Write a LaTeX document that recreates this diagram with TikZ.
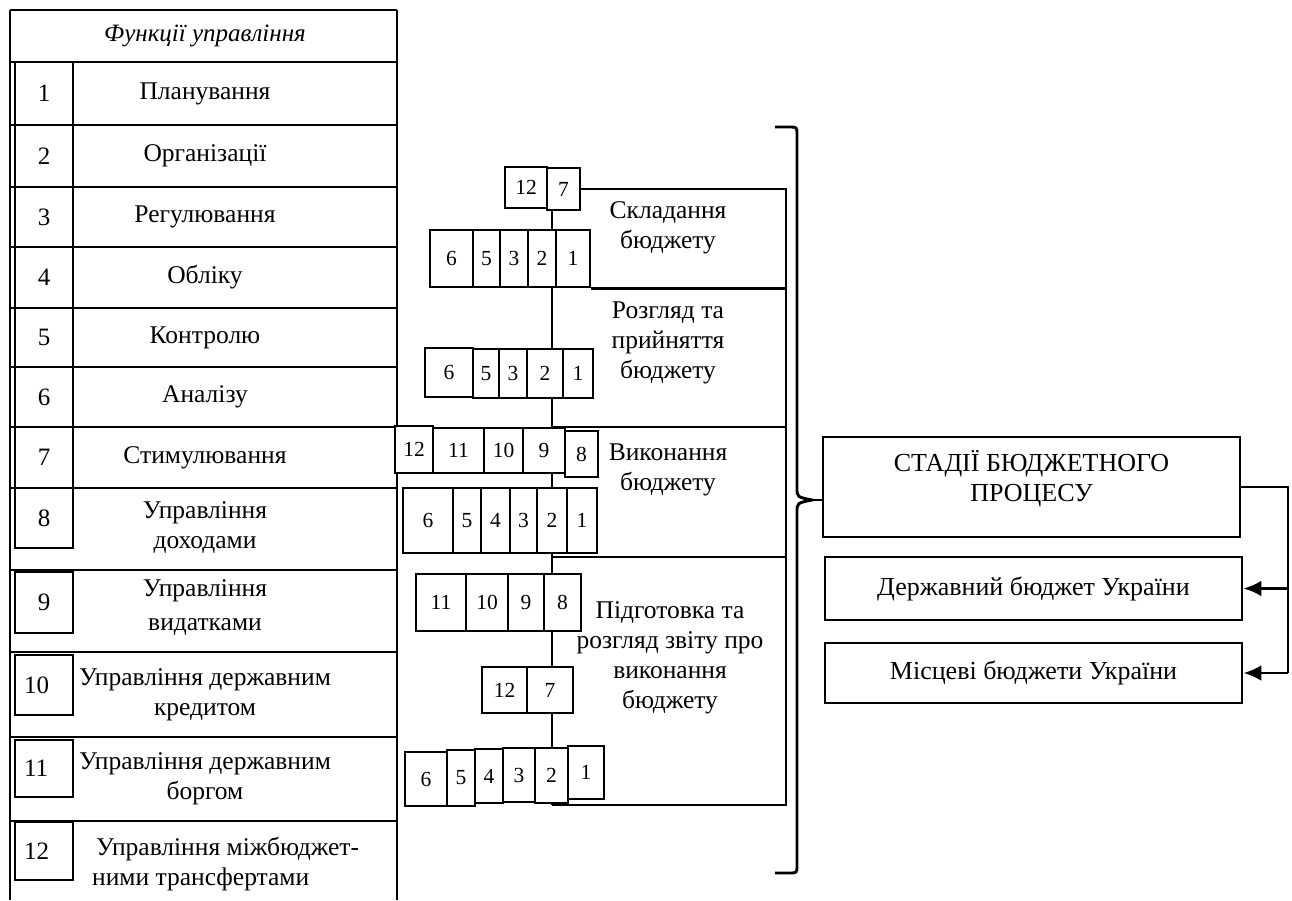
\documentclass[tikz,border=0pt]{standalone}
\usepackage{fontspec}
\setmainfont{Liberation Serif}
\usetikzlibrary{arrows.meta}
\begin{document}
\begin{tikzpicture}[x=1pt,y=-1pt,
  ln/.style={line width=2.9pt},
  spine/.style={line width=2.4pt},
  numbox/.style={draw, line width=2.9pt, fill=white, inner sep=0pt, minimum width=58pt, font=\fontsize{25}{30}\selectfont},
  numL/.style={text width=40pt, align=left},
  lbl/.style={inner sep=0pt, align=center, font=\fontsize{25.5}{30}\selectfont},
  sb/.style={draw, line width=2.7pt, fill=white, inner sep=0pt, font=\fontsize{21.5}{21.5}\selectfont},
  bigbox/.style={draw, line width=2.9pt, inner sep=0pt, align=center, minimum width=417pt, font=\fontsize{26}{30}\selectfont},
  arr/.style={line width=2.9pt, -{Latex[length=18pt,width=16pt]}}
]
\useasboundingbox (0,0) rectangle (1292,900);

% ---------- left table ----------
\draw[ln] (10,10) -- (10,900);
\draw[ln] (397,10) -- (397,900);
\foreach \y in {10,62,125,187,247,308,367,427,488,570,652,737,821}
  \draw[ln] (10,\y) -- (397,\y);

\node[lbl, font=\fontsize{25}{30}\selectfont\itshape] (hdr) at (205,36) {Функції управління};

\node[numbox, minimum height=63] (f1) at (44,93.5) {1};
\node[numbox, minimum height=62] (f2) at (44,156) {2};
\node[numbox, minimum height=60] (f3) at (44,217) {3};
\node[numbox, minimum height=61] (f4) at (44,277.5) {4};
\node[numbox, minimum height=59] (f5) at (44,337.5) {5};
\node[numbox, minimum height=60] (f6) at (44,397) {6};
\node[numbox, minimum height=61] (f7) at (44,457.5) {7};
\node[numbox, minimum height=60] (f8) at (44,518) {8};
\node[numbox, minimum height=61] (f9) at (44,602.5) {9};
\node[numbox, numL, minimum height=60] (f10) at (44,685) {10};
\node[numbox, numL, minimum height=57] (f11) at (44,768.5) {11};
\node[numbox, numL, minimum height=58] (f12) at (44,851) {12};

\node[lbl] (t1) at (205,93.5) {Планування};
\node[lbl] (t2) at (205,156) {Організації};
\node[lbl] (t3) at (205,217) {Регулювання};
\node[lbl] (t4) at (205,277.5) {Обліку};
\node[lbl] (t5) at (205,337.5) {Контролю};
\node[lbl] (t6) at (205,397) {Аналізу};
\node[lbl] (t7) at (205,457.5) {Стимулювання};
\node[lbl] (t8) at (205,528) {Управління\\доходами};
\node[lbl] (t9) at (205,608) {Управління\\[4pt]видатками};
\node[lbl] (t10) at (205,695) {Управління державним\\кредитом};
\node[lbl] (t11) at (205,779) {Управління державним\\боргом};
\node[lbl, align=left, anchor=west] (t12) at (92,864) {\hspace*{4pt}Управління міжбюджет-\\ними трансфертами};

% ---------- stage frames and spine ----------
\coordinate (sp) at (552,0);
\coordinate (c1) at (786,427);
\coordinate (c2) at (786,557);
\coordinate (c3) at (786,805);

\node[sb, minimum width=33, minimum height=42] (g1b7) at (563.5,189) {7};
\node[sb, minimum width=34, minimum height=57] (g1b1) at (573,258.5) {1};

\draw[ln] (g1b7.east) -| (c2) -- (sp |- c2);
\draw[ln] (g1b1.south east) -- (g1b1.south east -| c1);
\draw[ln] (sp |- c1) -- (c1);
\draw[ln] (c2) -- (c3) -- (sp |- c3);
\draw[spine] (sp |- g1b7.south) -- (sp |- c3);

% group 1
\node[sb, minimum width=42, minimum height=41] (g1b12) at (526,187.5) {12};
\node[sb, minimum width=33, minimum height=42] at (g1b7) {7};
\node[sb, minimum width=43, minimum height=57] (g1b6) at (451.5,258.5) {6};
\node[sb, minimum width=27, minimum height=57] (g1b5) at (486.5,258.5) {5};
\node[sb, minimum width=28, minimum height=57] (g1b3) at (514,258.5) {3};
\node[sb, minimum width=28, minimum height=57] (g1b2) at (542,258.5) {2};
\node[sb, minimum width=34, minimum height=57] at (g1b1) {1};

% group 2
\node[sb, minimum width=26, minimum height=49] (g2b5) at (486,373.5) {5};
\node[sb, minimum width=28, minimum height=49] (g2b3) at (513,373.5) {3};
\node[sb, minimum width=36, minimum height=49] (g2b2) at (545,373.5) {2};
\node[sb, minimum width=30, minimum height=49] (g2b1) at (578,373.5) {1};
\node[sb, minimum width=48, minimum height=49] (g2b6) at (449,372.5) {6};

% group 3
\node[sb, minimum width=51, minimum height=45] (g3b11) at (458.5,450.5) {11};
\node[sb, minimum width=39, minimum height=45] (g3b10) at (503.5,450.5) {10};
\node[sb, minimum width=33, minimum height=46] (g3b8) at (581.5,454) {8};
\node[sb, minimum width=42, minimum height=45] (g3b9) at (544,450.5) {9};
\node[sb, minimum width=38, minimum height=47] (g3b12) at (414,449.5) {12};
\node[sb, minimum width=50, minimum height=65] (g3b6) at (428,520.5) {6};
\node[sb, minimum width=28, minimum height=65] (g3b5) at (467,520.5) {5};
\node[sb, minimum width=29, minimum height=65] (g3b4) at (495.5,520.5) {4};
\node[sb, minimum width=27, minimum height=65] (g3b3) at (523.5,520.5) {3};
\node[sb, minimum width=30, minimum height=65] (g3b2) at (552,520.5) {2};
\node[sb, minimum width=30, minimum height=65] (g3b1) at (582,520.5) {1};

% group 4
\node[sb, minimum width=50, minimum height=57] (g4b11) at (441,602.5) {11};
\node[sb, minimum width=42, minimum height=57] (g4b10) at (487,602.5) {10};
\node[sb, minimum width=36, minimum height=57] (g4b9) at (526,602.5) {9};
\node[sb, minimum width=37, minimum height=57] (g4b8) at (562.5,602.5) {8};
\node[sb, minimum width=45, minimum height=46] (g4b12) at (504.5,690) {12};
\node[sb, minimum width=46, minimum height=46] (g4b7) at (550,690) {7};
\node[sb, minimum width=42, minimum height=54] (g4b6) at (426,779) {6};
\node[sb, minimum width=28, minimum height=56] (g4b5) at (461,778) {5};
\node[sb, minimum width=28, minimum height=54] (g4b4) at (489,776) {4};
\node[sb, minimum width=32, minimum height=54] (g4b3) at (519,775) {3};
\node[sb, minimum width=33, minimum height=55] (g4b2) at (551.5,775.5) {2};
\node[sb, minimum width=36, minimum height=53] (g4b1) at (586,772.5) {1};

% stage labels
\node[lbl] (s1) at (668,228) {Складання\\бюджету};
\node[lbl] (s2) at (668,343) {Розгляд та\\прийняття\\бюджету};
\node[lbl] (s3) at (668,470) {Виконання\\бюджету};
\node[lbl] (s4) at (670,658) {Підготовка та\\розгляд звіту про\\виконання\\бюджету};

% ---------- brace ----------
\coordinate (tip) at (812,500);
\draw[ln] (775,127) -- (789,127) .. controls (797,127) .. (797,135) -- (797,488)
  .. controls (797,497) .. (tip) .. controls (797,503) .. (797,512) -- (797,865)
  .. controls (797,873) .. (789,873) -- (775,873);

% ---------- right boxes ----------
\node[bigbox, minimum height=100, text depth=22pt] (st) at (1031.5,487) {СТАДІЇ БЮДЖЕТНОГО\\ПРОЦЕСУ};
\node[bigbox, minimum height=63] (db) at (1033.5,588.5) {Державний бюджет України};
\node[bigbox, minimum height=60] (mb) at (1033.5,673) {Місцеві бюджети України};

\draw[ln] (tip) -- (st.west |- tip);

\coordinate (rr) at (1288,0);
\draw[ln] (st.east) -- (st.east -| rr) -- (rr |- mb.east);
\draw[arr] (rr |- db.east) -- (db.east);
\draw[arr] (rr |- mb.east) -- (mb.east);
\end{tikzpicture}
\end{document}
